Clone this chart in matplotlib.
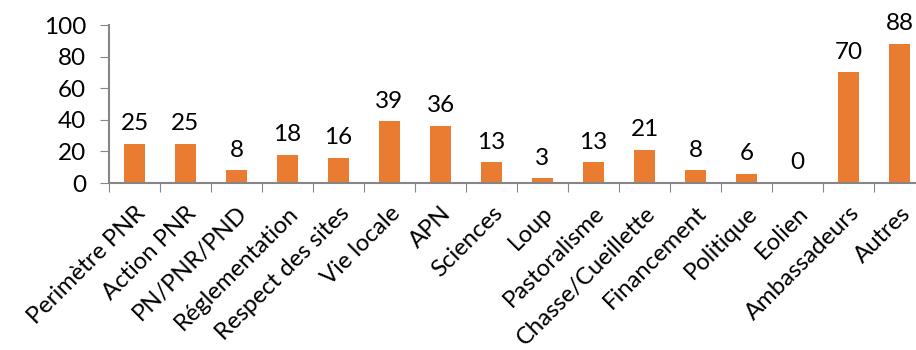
import matplotlib.pyplot as plt
import numpy as np

categories = ['Perimètre PNR', 'Action PNR', 'PN/PNR/PND', 'Réglementation',
              'Respect des sites', 'Vie locale', 'APN', 'Sciences', 'Loup',
              'Pastoralisme', 'Chasse/Cueillette', 'Financement', 'Politique',
              'Eolien', 'Ambassadeurs', 'Autres']
values = [25, 25, 8, 18, 16, 39, 36, 13, 3, 13, 21, 8, 6, 0, 70, 88]
yticks = [0, 20, 40, 60, 80, 100]

plt.rcParams['font.family'] = ['Lato', 'DejaVu Sans']

fig = plt.figure(figsize=(9.16, 3.5), dpi=100)
# axes runs slightly past the right edge, as in the reference
ax = fig.add_axes([109 / 916, 1 - 183 / 350, 816 / 916, 158 / 350])

x = np.arange(len(categories))
bars = ax.bar(x, values, width=0.4, color='#E97C30')

for xi, v in zip(x, values):
    ax.annotate(str(v), (xi, v), xytext=(0, 7), textcoords='offset points',
                ha='center', va='bottom', fontsize=17.5)

ax.set_xlim(-0.5, len(categories) - 0.5)
ax.set_ylim(0, 100)
ax.set_yticks(yticks)
ax.tick_params(axis='y', labelsize=17.5, length=6.5, color='#868686', pad=10)

# category boundary ticks
ax.set_xticks(np.arange(len(categories) + 1) - 0.5, minor=False)
ax.set_xticklabels([])
ax.tick_params(axis='x', length=6.5, color='#868686', direction='out')
ax.set_xticks(x, minor=True)
ax.set_xticklabels(categories, minor=True, rotation=45, ha='right',
                   rotation_mode='anchor', fontsize=17.2)
ax.tick_params(axis='x', which='minor', length=0, pad=14)

for s in ['top', 'right']:
    ax.spines[s].set_visible(False)
for s in ['left', 'bottom']:
    ax.spines[s].set_color('#868686')
    ax.spines[s].set_linewidth(1.5)

fig.savefig('out.png', dpi=100)
